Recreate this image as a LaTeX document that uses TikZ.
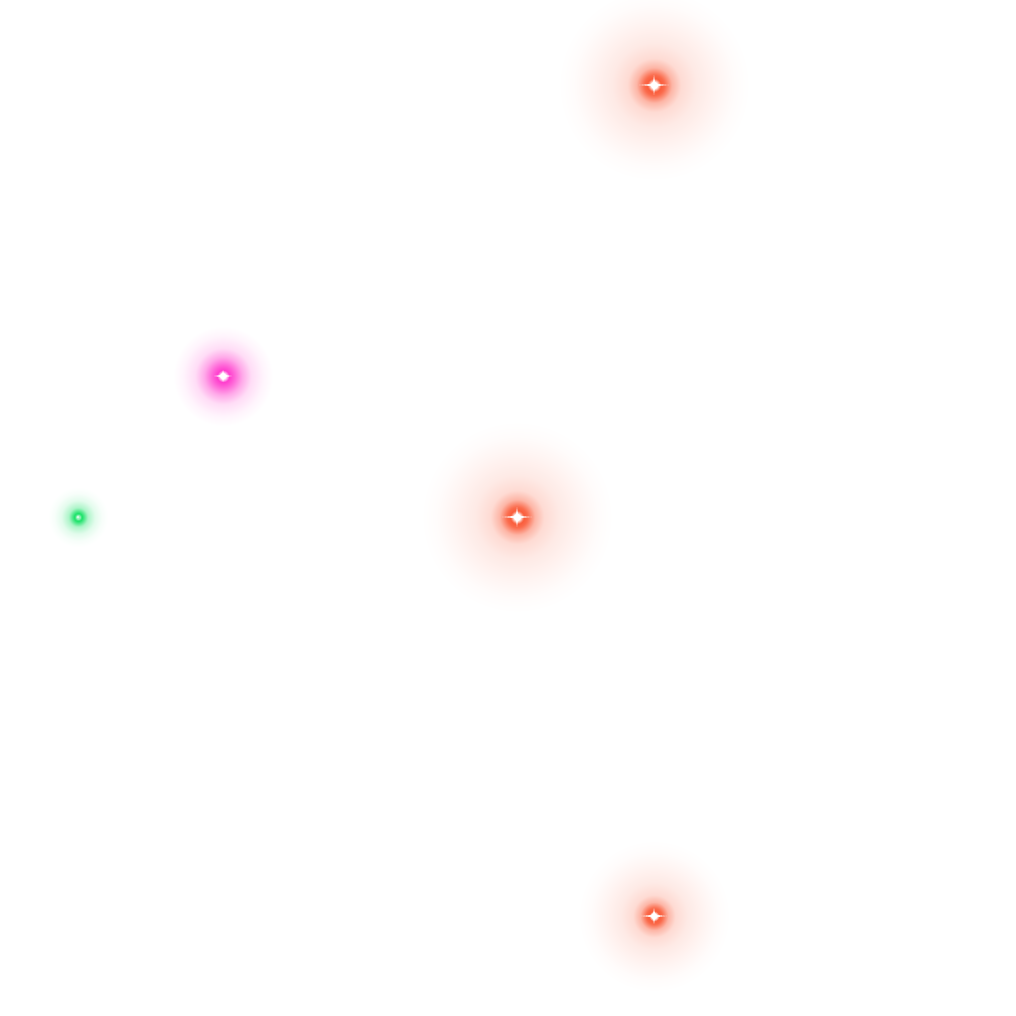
\documentclass[tikz,border=0pt]{standalone}

\definecolor{glowRed}{RGB}{250,92,58}
\definecolor{glowPink}{RGB}{255,40,200}
\definecolor{glowGreen}{RGB}{20,225,100}

\pgfdeclareradialshading{redglow}{\pgfpoint{0bp}{0bp}}{color(0bp)=(white); color(0.8bp)=(white); color(1.7bp)=(glowRed); color(2.7bp)=(glowRed!90!white); color(4.6bp)=(glowRed!45!white); color(7bp)=(glowRed!22!white); color(11bp)=(glowRed!13!white); color(17bp)=(glowRed!6!white); color(21bp)=(glowRed!2!white); color(25bp)=(white); color(50bp)=(white)}
\pgfdeclareradialshading{pinkglow}{\pgfpoint{0bp}{0bp}}{color(0bp)=(white); color(1.2bp)=(white); color(3bp)=(glowPink!90!white); color(5.5bp)=(glowPink!72!white); color(9.5bp)=(glowPink!40!white); color(14bp)=(glowPink!16!white); color(20bp)=(glowPink!5!white); color(25bp)=(white); color(50bp)=(white)}
\pgfdeclareradialshading{greenglow}{\pgfpoint{0bp}{0bp}}{color(0bp)=(glowGreen!45!white); color(1.5bp)=(glowGreen!45!white); color(3bp)=(glowGreen); color(4.5bp)=(glowGreen!80!white); color(8bp)=(glowGreen!35!white); color(14bp)=(glowGreen!12!white); color(20bp)=(glowGreen!3!white); color(25bp)=(white); color(50bp)=(white)}

\tikzset{every picture/.style={line width=0.75pt}}

\begin{document}
\begin{tikzpicture}[x=1pt,y=1pt,yscale=-1,xscale=1]
    \useasboundingbox (0,0) rectangle (1016,1016);
    \fill [white] (0,0) rectangle (1016,1016);

    % star positions
    \coordinate (starTop) at (654,85);
    \coordinate (starMid) at (517,517);
    \coordinate (starBot) at (654,916);
    \coordinate (starPink) at (223,376);
    \coordinate (starGreen) at (78,517);

    %Shape: Glow [id:top]
    \shade [shading=redglow] (starTop) circle (96);
    %Shape: Glow [id:mid]
    \shade [shading=redglow] (starMid) circle (96);
    %Shape: Glow [id:bot]
    \shade [shading=redglow] (starBot) circle (76);
    %Shape: Glow [id:pink]
    \shade [shading=pinkglow] (starPink) circle (50);
    %Shape: Glow [id:green]
    \shade [shading=greenglow] (starGreen) circle (30);

    %Shape: Sparkles
    \foreach \s/\h/\v in {starTop/15/10, starMid/15/10, starBot/13/8, starPink/9/6} {
        \fill [white, opacity=0.9] (\s) ++(0,-\v) -- ++(1.2,\v-1.2) -- ++(\h-1.2,1.2) -- ++(1.2-\h,1.2) -- ++(-1.2,\v-1.2) -- ++(-1.2,1.2-\v) -- ++(1.2-\h,-1.2) -- ++(\h-1.2,-1.2) -- cycle ;
        \fill [white] (\s) circle (3);
    }
    \fill [white, opacity=0.6] (starGreen) circle (1.5);

\end{tikzpicture}
\end{document}
